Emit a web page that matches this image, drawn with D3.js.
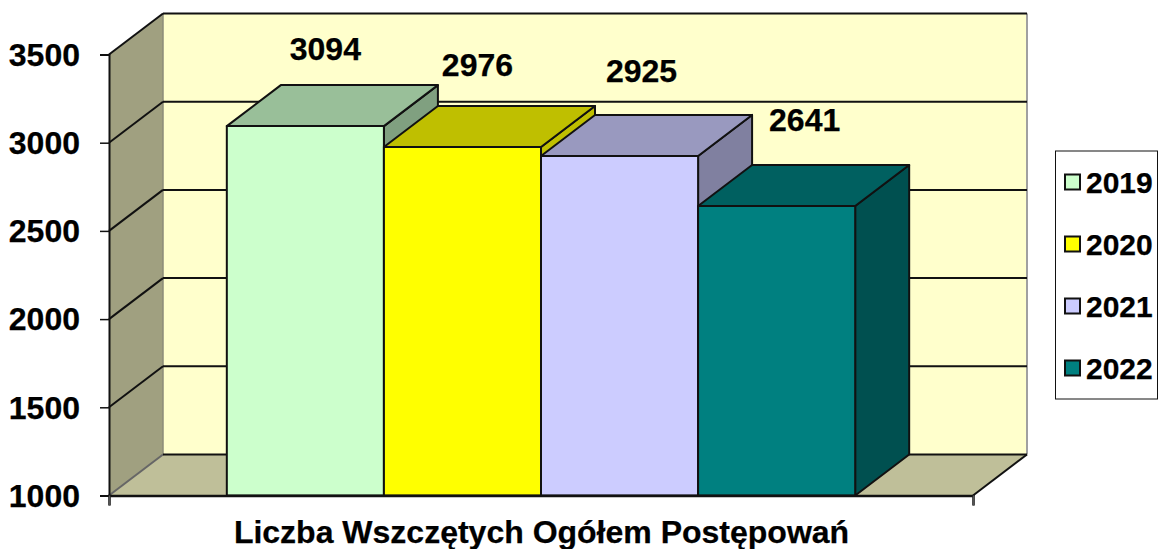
<!DOCTYPE html>
<html>
<head>
<meta charset="utf-8">
<script src="https://d3js.org/d3.v7.min.js"></script>
<style>
  html, body { margin: 0; padding: 0; background: #fff; }
  text { font-family: "Liberation Sans", Arial, sans-serif; font-weight: bold; fill: #000; stroke: #000; stroke-width: 0.25px; }
</style>
</head>
<body>
<div id="chart"></div>
<script>
// Chart data
const years = ["2019", "2020", "2021", "2022"];
const values = [3094, 2976, 2925, 2641];
const yTicks = [1000, 1500, 2000, 2500, 3000, 3500];
const title = "Liczba Wszczętych Ogółem Postępowań";

// Bar colours: front, top, side
const front = ["#ccffcc", "#ffff00", "#ccccff", "#008080"];
const top3d = ["#99bf99", "#bfbf00", "#9999bf", "#006060"];
const side3d = ["#80a080", "#bfbf00", "#8080a0", "#005050"];

const width = 1164, height = 549;
const plot = { left: 109, right: 973, top: 54.5, bottom: 495.5 };
const depth = { x: 54, y: -41 };  // 3d offset of the back wall

// Label nudges, the labels are not centred on the bars in the original
const labelDx = [20, 15, 22, 28];
const labelDy = [-66, -71, -74, -75];

const svg = d3.select("#chart").append("svg")
    .attr("width", width)
    .attr("height", height)
    .style("display", "block");

const y = d3.scaleLinear().domain([1000, 3500]).range([plot.bottom, plot.top]);
const x = d3.scaleBand().domain(years).range([plot.left, plot.right])
    .paddingInner(0).paddingOuter(0.75);
const xEnds = d3.scaleLinear().domain([0, 1]).range([plot.left, plot.right]);

const pts = a => a.map(p => p.join(",")).join(" ");
const poly = (points, fill, stroke, sw) => svg.append("polygon")
    .attr("points", pts(points))
    .attr("fill", fill)
    .attr("stroke", stroke || "none")
    .attr("stroke-width", sw || 0)
    .attr("stroke-linejoin", "round");
const seg = (x1, y1, x2, y2, stroke, sw) => svg.append("line")
    .attr("x1", x1).attr("y1", y1).attr("x2", x2).attr("y2", y2)
    .attr("stroke", stroke).attr("stroke-width", sw);

// Walls and floor
const bl = plot.left, br = plot.right, yb = plot.bottom, yt = plot.top;
poly([[bl + depth.x, yt + depth.y], [br + depth.x, yt + depth.y], [br + depth.x, yb + depth.y], [bl + depth.x, yb + depth.y]], "#ffffcc");
poly([[bl, yt], [bl + depth.x, yt + depth.y], [bl + depth.x, yb + depth.y], [bl, yb]], "#a0a080");
poly([[bl, yb], [br, yb], [br + depth.x, yb + depth.y], [bl + depth.x, yb + depth.y]], "#bfbf99");

seg(bl + depth.x, yt + depth.y, bl + depth.x, yb + depth.y, "#8c8c78", 1.5);
seg(br + depth.x, yt + depth.y, br + depth.x, yb + depth.y, "#a0a0a0", 2);

// Gridlines, running along the side wall and the back wall
yTicks.forEach(t => {
    const isFloor = t === yTicks[0];
    const yy = y(t);
    seg(bl, yy, bl + depth.x, yy + depth.y, isFloor ? "#666666" : "#111111", 2);
    seg(bl + depth.x, yy + depth.y, br + depth.x, yy + depth.y, "#111111", 2);
});
seg(br, yb, br + depth.x, yb + depth.y, "#111111", 2);

// Bars, left to right so each one covers the side of the previous one
years.forEach((yr, i) => {
    const x0 = x(yr), x1 = x0 + x.bandwidth();
    const y0 = y(values[i]);
    const dx = depth.x, dy = depth.y;
    poly([[x1, y0], [x1 + dx, y0 + dy], [x1 + dx, yb + dy], [x1, yb]], side3d[i], "#111111", 2);
    poly([[x0, y0], [x1, y0], [x1 + dx, y0 + dy], [x0 + dx, y0 + dy]], top3d[i], "#111111", 2);
    poly([[x0, y0], [x1, y0], [x1, yb], [x0, yb]], front[i], "#111111", 2);
});

// Value labels
svg.selectAll(".value-label")
    .data(values)
    .join("text")
    .attr("class", "value-label")
    .attr("x", (d, i) => x(years[i]) + x.bandwidth() / 2 + labelDx[i])
    .attr("y", (d, i) => y(d) + labelDy[i])
    .attr("text-anchor", "middle")
    .style("font-size", "32px")
    .text(d => d);

// Axes
const yAxis = svg.append("g")
    .attr("transform", `translate(${plot.left},0)`)
    .call(d3.axisLeft(y).tickValues(yTicks).tickSize(9).tickPadding(20).tickFormat(d3.format("d")));
yAxis.selectAll("text").style("font-size", "32px").attr("dy", "0.34em");
yAxis.selectAll("line").attr("stroke", "#111111").attr("stroke-width", 1.5);
yAxis.select(".domain").attr("stroke", "#111111").attr("stroke-width", 2);

const xAxis = svg.append("g")
    .attr("transform", `translate(0,${plot.bottom})`)
    .call(d3.axisBottom(xEnds).tickValues([0, 1]).tickSize(10).tickFormat(""));
xAxis.selectAll("line").attr("stroke", "#555555").attr("stroke-width", 1.5);
xAxis.select(".domain").attr("stroke", "#111111").attr("stroke-width", 2.5);

// Title under the axis
svg.append("text")
    .attr("x", 541.5)
    .attr("y", 543)
    .attr("text-anchor", "middle")
    .style("font-size", "32px")
    .text(title);

// Legend
svg.append("rect")
    .attr("x", 1055.5).attr("y", 151)
    .attr("width", 102).attr("height", 248)
    .attr("fill", "#fff")
    .attr("stroke", "#111111")
    .attr("stroke-width", 1);

const legendY = d3.scalePoint().domain(years).range([182, 368]);
const legend = svg.selectAll(".legend-item")
    .data(years)
    .join("g")
    .attr("class", "legend-item")
    .attr("transform", d => `translate(1064,${legendY(d)})`);
legend.append("rect")
    .attr("x", 1).attr("y", -7.5)
    .attr("width", 15).attr("height", 15)
    .attr("fill", (d, i) => front[i])
    .attr("stroke", "#111111")
    .attr("stroke-width", 2);
legend.append("text")
    .attr("x", 22)
    .attr("dy", "0.36em")
    .style("font-size", "30px")
    .text(d => d);
</script>
</body>
</html>
